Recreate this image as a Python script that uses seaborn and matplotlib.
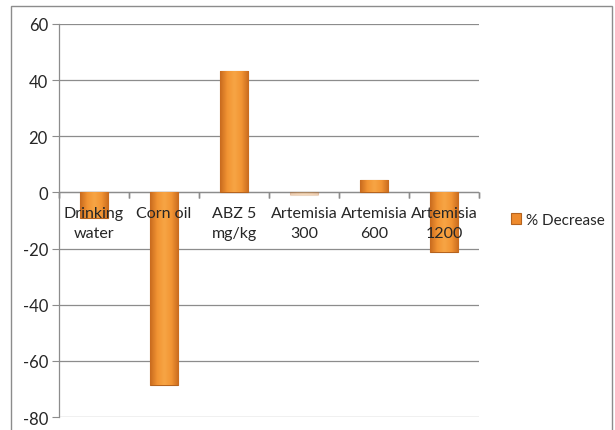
import numpy as np
import pandas as pd
import matplotlib
matplotlib.use("Agg")
import matplotlib.pyplot as plt
import seaborn as sns
from matplotlib.colors import LinearSegmentedColormap
from matplotlib.patches import Rectangle, Patch

# data
groups = ["Drinking\nwater", "Corn oil", "ABZ 5\nmg/kg", "Artemisia\n300", "Artemisia\n600", "Artemisia\n1200"]
pct_decrease = [-9.2, -68.5, 43.4, -0.8, 4.3, -21.1]
y_ticks = [60, 40, 20, 0, -20, -40, -60, -80]

df = pd.DataFrame({"group": groups, "value": pct_decrease})

sns.set_style("white")
plt.rcParams["font.family"] = ["Lato", "DejaVu Sans"]

fig = plt.figure(figsize=(6.15, 4.31), dpi=100)
ax = fig.add_axes([0.096, 0.030, 0.683, 0.912])

sns.barplot(data=df, x="group", y="value", color="#EE8A2C", width=0.4,
            edgecolor="#B5631E", linewidth=0.8, ax=ax, zorder=3)

# bevel-like gradient inside each bar
cmap = LinearSegmentedColormap.from_list("bev", ["#C86A1E", "#F29433", "#F7A545", "#F29433", "#C86A1E"])
grad = np.linspace(0, 1, 64).reshape(1, -1)
for k, p in enumerate(ax.patches):
    x0, y0 = p.get_x(), p.get_y()
    w, h = p.get_width(), p.get_height()
    # the tiny Artemisia 300 bar is barely visible in the original
    a = 0.2 if abs(h) < 2 else 1.0
    p.set_alpha(a)
    im = ax.imshow(grad, extent=[x0, x0 + w, min(y0, y0 + h), max(y0, y0 + h)],
                   cmap=cmap, aspect="auto", zorder=3.5, interpolation="bicubic", alpha=a)
    im.set_clip_path(p)

ax.set_ylim(-80, 60)
ax.set_xlim(-0.5, 5.5)
ax.set_yticks(y_ticks)
ax.set_yticklabels([str(v) for v in y_ticks], fontsize=12)
ax.set_xlabel("")
ax.set_ylabel("")

# gridlines and axes look
ax.grid(axis="y", color="#8C8C8C", linewidth=0.9, zorder=1)
ax.axhline(0, color="#8C8C8C", linewidth=0.9, zorder=2)
for s in ["top", "right", "bottom"]:
    ax.spines[s].set_visible(False)
ax.spines["left"].set_color("#8C8C8C")
ax.spines["left"].set_linewidth(0.9)
ax.tick_params(axis="y", length=5, color="#8C8C8C", pad=3, left=True)

# category labels sit just under the zero line
ax.set_xticks([])
for i, g in enumerate(groups):
    ax.annotate(g, xy=(i, 0), xytext=(0, -10), textcoords="offset points",
                ha="center", va="top", fontsize=11.5, linespacing=1.55, zorder=5)
for b in np.arange(-0.5, 6.0, 1.0):
    ax.plot([b, b], [0, 0], marker=3, markersize=4, color="#8C8C8C", clip_on=False, zorder=2)

# legend
handle = Patch(facecolor="#EE8A2C", edgecolor="#B5631E", linewidth=0.8)
fig.legend([handle], ["% Decrease"], loc="center left", bbox_to_anchor=(0.808, 0.487),
           frameon=False, fontsize=11, handlelength=0.7, handleheight=0.7, handletextpad=0.3)

# outer chart border
fig.add_artist(Rectangle((11 / 615, -0.05), (612 - 11) / 615, 1.05 - 7 / 431,
                         transform=fig.transFigure, fill=False, edgecolor="#8C8C8C",
                         linewidth=1.0, clip_on=False))

fig.savefig("out.png", dpi=100)
